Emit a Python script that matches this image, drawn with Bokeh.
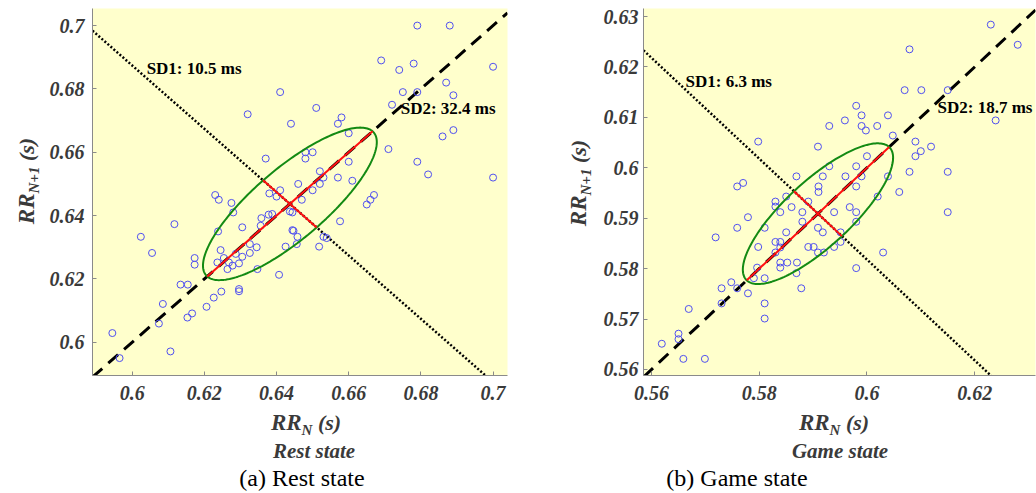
import numpy as np
from bokeh.plotting import figure
from bokeh.layouts import row, column
from bokeh.models import FixedTicker, Range1d, Div
from bokeh.core.properties import value
from bokeh.embed import file_html
from bokeh.resources import INLINE

# ---------------- data: Rest state ----------------
rest_rr_n = [0.679, 0.688, 0.669, 0.678, 0.674, 0.700, 0.687, 0.675, 0.679, 0.689,
             0.641, 0.672, 0.651, 0.632, 0.658, 0.657, 0.644, 0.660, 0.686, 0.689,
             0.671, 0.650, 0.648, 0.648, 0.637, 0.679, 0.660, 0.682, 0.700, 0.652,
             0.653, 0.657, 0.661, 0.646, 0.652, 0.650, 0.641, 0.638, 0.640, 0.623,
             0.624, 0.6275, 0.647, 0.667, 0.666, 0.665, 0.628, 0.6437, 0.6444, 0.6388,
             0.6378, 0.6358, 0.6576, 0.6444, 0.6117, 0.6305, 0.6238, 0.6024, 0.6447, 0.6458,
             0.6456, 0.6425, 0.6530, 0.6539, 0.6518, 0.6407, 0.6326, 0.6345, 0.6173, 0.6173,
             0.6245, 0.6287, 0.6305, 0.6254, 0.6236, 0.6268, 0.6278, 0.6264, 0.6296, 0.6326,
             0.6347, 0.6055, 0.6134, 0.6154, 0.6226, 0.6247, 0.6296, 0.6296, 0.6206, 0.6085,
             0.6153, 0.6166, 0.6074, 0.5945, 0.5965, 0.6106, 0.6356]
rest_rr_n1 = [0.700, 0.700, 0.689, 0.688, 0.686, 0.687, 0.682, 0.679, 0.679, 0.678,
              0.679, 0.675, 0.674, 0.672, 0.671, 0.669, 0.669, 0.666, 0.665, 0.667,
              0.661, 0.660, 0.660, 0.658, 0.658, 0.657, 0.657, 0.653, 0.652, 0.654,
              0.652, 0.652, 0.651, 0.650, 0.650, 0.648, 0.648, 0.647, 0.646, 0.6465,
              0.645, 0.644, 0.645, 0.6465, 0.645, 0.6435, 0.641, 0.6413, 0.6410, 0.6405,
              0.6403, 0.6392, 0.6382, 0.6354, 0.6373, 0.6363, 0.6350, 0.6333, 0.6352, 0.6333,
              0.6310, 0.6302, 0.6333, 0.6329, 0.6302, 0.6213, 0.6310, 0.6300, 0.6266, 0.6245,
              0.6291, 0.6279, 0.6270, 0.6266, 0.6252, 0.6252, 0.6242, 0.6231, 0.6249, 0.6282,
              0.6231, 0.6282, 0.6182, 0.6182, 0.6141, 0.6160, 0.6168, 0.6161, 0.6112, 0.6121,
              0.6078, 0.6091, 0.6059, 0.6029, 0.5950, 0.5971, 0.6368]
rest_center = 0.6437
rest_sd1 = 0.0105
rest_sd2 = 0.0324
rest_sd1_text = "SD1: 10.5 ms"
rest_sd2_text = "SD2: 32.4 ms"
rest_xticks = [0.6, 0.62, 0.64, 0.66, 0.68, 0.7]
rest_xtick_labels = ["0.6", "0.62", "0.64", "0.66", "0.68", "0.7"]
rest_yticks = [0.6, 0.62, 0.64, 0.66, 0.68, 0.7]
rest_ytick_labels = ["0.6", "0.62", "0.64", "0.66", "0.68", "0.7"]
rest_state = "Rest state"
rest_caption = "(a) Rest state"

# ---------------- data: Game state ----------------
game_rr_n = [0.6230, 0.6280, 0.6079, 0.6070, 0.6101, 0.6150, 0.6239, 0.5980, 0.5959, 0.5930,
             0.5990, 0.5990, 0.5998, 0.6019, 0.6039, 0.6048, 0.5798, 0.5909, 0.6090, 0.6119,
             0.6100, 0.6090, 0.6000, 0.5930, 0.5980, 0.6079, 0.6150, 0.5869, 0.5918, 0.5960,
             0.5990, 0.6039, 0.5759, 0.5770, 0.5910, 0.5910, 0.5980, 0.6060, 0.5850, 0.6020,
             0.5830, 0.5830, 0.5891, 0.5860, 0.5968, 0.5839, 0.5880, 0.5939, 0.5980, 0.6150,
             0.5779, 0.5880, 0.5980, 0.5810, 0.5759, 0.5909, 0.5918, 0.5850, 0.5951, 0.5719,
             0.5830, 0.5839, 0.5951, 0.5798, 0.5891, 0.5901, 0.5939, 0.5839, 0.5830, 0.5909,
             0.5920, 0.5839, 0.5852, 0.5870, 0.6030, 0.5796, 0.5839, 0.5980, 0.5869, 0.5790,
             0.5810, 0.5748, 0.5730, 0.5759, 0.5779, 0.5878, 0.5730, 0.5810, 0.5669, 0.5810,
             0.5650, 0.5650, 0.5619, 0.5659, 0.5699]
game_rr_n1 = [0.6284, 0.6244, 0.6235, 0.6154, 0.6154, 0.6154, 0.6094, 0.6123, 0.6094, 0.6083,
              0.6104, 0.6083, 0.6074, 0.6083, 0.6104, 0.6064, 0.6052, 0.6042, 0.6052, 0.6042,
              0.6033, 0.6023, 0.6023, 0.6003, 0.6003, 0.5992, 0.5992, 0.5983, 0.5983, 0.5983,
              0.5983, 0.5983, 0.5963, 0.5970, 0.5963, 0.5952, 0.5963, 0.5952, 0.5943, 0.5943,
              0.5933, 0.5923, 0.5933, 0.5922, 0.5922, 0.5912, 0.5912, 0.5912, 0.5912, 0.5912,
              0.5902, 0.5893, 0.5893, 0.5881, 0.5881, 0.5881, 0.5872, 0.5872, 0.5872, 0.5862,
              0.5853, 0.5853, 0.5853, 0.5843, 0.5843, 0.5843, 0.5843, 0.5842, 0.5832, 0.5832,
              0.5832, 0.5812, 0.5812, 0.5812, 0.5832, 0.5802, 0.5802, 0.5801, 0.5791, 0.5781,
              0.5781, 0.5773, 0.5761, 0.5761, 0.5751, 0.5761, 0.5731, 0.5731, 0.5720, 0.5701,
              0.5671, 0.5660, 0.5651, 0.5621, 0.5621]
game_center = 0.5909
game_sd1 = 0.0063
game_sd2 = 0.0187
game_sd1_text = "SD1: 6.3 ms"
game_sd2_text = "SD2: 18.7 ms"
game_xticks = [0.56, 0.58, 0.6, 0.62]
game_xtick_labels = ["0.56", "0.58", "0.6", "0.62"]
game_yticks = [0.56, 0.57, 0.58, 0.59, 0.6, 0.61, 0.62, 0.63]
game_ytick_labels = ["0.56", "0.57", "0.58", "0.59", "0.6", "0.61", "0.62", "0.63"]
game_state = "Game state"
game_caption = "(b) Game state"

SERIF = "Liberation Serif"
TICK_COLOR = "#3a3a3a"
FIG_H = 410
BOT_H = 83
YDIV_W = 40


def make_figure(xs, ys, center, sd1, sd2, xr, yr, xticks, xlabels, yticks, ylabels,
                width, bl, br, sd1_text, sd1_pos, sd2_text, sd2_pos, ylab_std):
    p = figure(width=width, height=FIG_H, output_backend="svg", toolbar_location=None,
               x_range=Range1d(*xr), y_range=Range1d(*yr),
               min_border_left=bl, min_border_right=br, min_border_top=8,
               min_border_bottom=35)
    p.background_fill_color = "#FFFFCC"
    p.border_fill_color = "white"
    p.outline_line_color = None
    p.grid.visible = False
    for ax, ticks, labels in ((p.xaxis[0], xticks, xlabels), (p.yaxis[0], yticks, ylabels)):
        ax.ticker = FixedTicker(ticks=ticks)
        ax.major_label_overrides = {t: l for t, l in zip(ticks, labels)}
        ax.major_label_text_font = SERIF
        ax.major_label_text_font_style = "bold italic"
        ax.major_label_text_font_size = "20px"
        ax.major_label_text_color = TICK_COLOR
        ax.axis_line_color = "#8a8a8a"
        ax.major_tick_line_color = "#8a8a8a"
        ax.major_tick_in = 4
        ax.major_tick_out = 0
        ax.minor_tick_line_color = None
    p.xaxis.major_label_standoff = 10
    p.yaxis.major_label_standoff = ylab_std

    lx = [xr[0], xr[1]]
    p.line(lx, lx, line_color="black", line_width=3, line_dash="13 8")
    p.line(lx, [2 * center - v for v in lx], line_color="black", line_width=2.5,
           line_dash="2 2")

    p.scatter(xs, ys, marker="circle", size=7, fill_color=None,
              line_color="#5050f0", line_width=1)

    t = np.linspace(0, 2 * np.pi, 200)
    r2 = np.sqrt(0.5)
    ex = center + sd2 * np.cos(t) * r2 - sd1 * np.sin(t) * r2
    ey = center + sd2 * np.cos(t) * r2 + sd1 * np.sin(t) * r2
    p.line(ex, ey, line_color="#138a13", line_width=2)
    p.line([center - sd2 * r2, center + sd2 * r2], [center - sd2 * r2, center + sd2 * r2],
           line_color="#ff1010", line_width=2)
    p.line([center + sd1 * r2, center - sd1 * r2], [center - sd1 * r2, center + sd1 * r2],
           line_color="#ff1010", line_width=2)

    for txt, pos in ((sd1_text, sd1_pos), (sd2_text, sd2_pos)):
        p.text([pos[0]], [pos[1]], text=[txt], text_font=value(SERIF),
               text_font_style="bold", text_font_size="17px", text_color="black",
               text_baseline="middle")
    return p


def abs_span(cx, cy, html, size, style, color, rotate=False):
    fs = "italic" if "italic" in style else "normal"
    fw = "bold" if "bold" in style else "normal"
    tr = "translate(-50%,-50%)" + (" rotate(-90deg)" if rotate else "")
    return (f'<div style="position:absolute;left:{cx}px;top:{cy}px;transform:{tr};'
            f'white-space:nowrap;font-family:\'{SERIF}\';font-size:{size}px;'
            f'font-style:{fs};font-weight:{fw};color:{color};line-height:1;">{html}</div>')


def rr_html(sub):
    return ('<span style="font-size:23px">RR</span>'
            f'<span style="font-size:15px;position:relative;top:5px">{sub}</span>'
            '<span style="font-size:22px">&nbsp;(s)</span>')


def ylabel_div(cx, cy):
    inner = abs_span(cx, cy, rr_html("N+1"), 23, "bold italic", TICK_COLOR, rotate=True)
    return Div(text=f'<div style="position:relative;width:{YDIV_W}px;height:{FIG_H}px">{inner}</div>',
               width=YDIV_W, height=FIG_H, margin=0)


def bottom_div(width, xl, state, st, caption, cap):
    inner = (abs_span(xl[0], xl[1], rr_html("N"), 23, "bold italic", TICK_COLOR)
             + abs_span(st[0], st[1], state, 21, "bold italic", TICK_COLOR)
             + abs_span(cap[0], cap[1], caption, 24, "normal", "black"))
    return Div(text=f'<div style="position:relative;width:{width}px;height:{BOT_H}px">{inner}</div>',
               width=width, height=BOT_H, margin=0)


p1 = make_figure(rest_rr_n, rest_rr_n1, rest_center, rest_sd1, rest_sd2,
                 (0.589, 0.704), (0.5895, 0.7054), rest_xticks, rest_xtick_labels,
                 rest_yticks, rest_ytick_labels, 560 - YDIV_W, 52, 53,
                 rest_sd1_text, (0.6040, 0.6864), rest_sd2_text, (0.6744, 0.6738), 8)
p2 = make_figure(game_rr_n, game_rr_n1, game_center, game_sd1, game_sd2,
                 (0.5585, 0.6313), (0.5588, 0.6316), game_xticks, game_xtick_labels,
                 game_yticks, game_ytick_labels, 476 - YDIV_W, 43, 1,
                 game_sd1_text, (0.5663, 0.6172), game_sd2_text, (0.6131, 0.6119), 5)

left = column(row(ylabel_div(26, 181), p1),
              bottom_div(560, (306, 12), rest_state, (314, 41), rest_caption, (302, 68)))
right = column(row(ylabel_div(18, 183), p2),
               bottom_div(476, (274, 12), game_state, (280, 41), game_caption, (177, 68)))

layout = row(left, right)
open("out.html", "w").write(file_html(layout, INLINE))
